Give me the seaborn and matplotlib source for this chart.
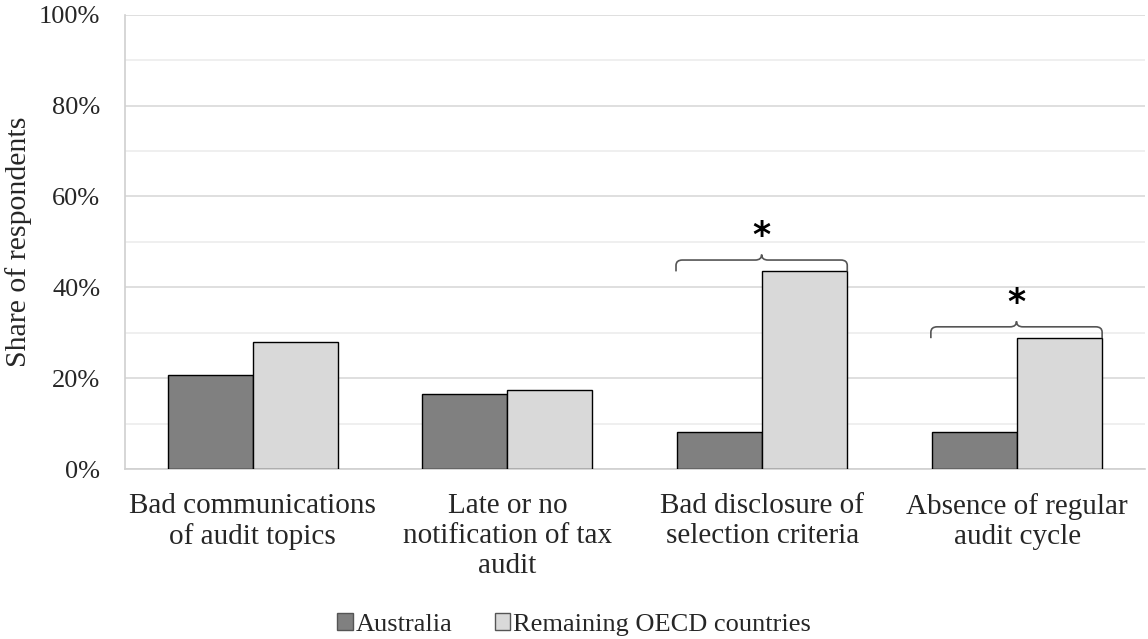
import numpy as np
import pandas as pd
import matplotlib
matplotlib.use('Agg')
import matplotlib.pyplot as plt
from matplotlib.path import Path
from matplotlib.patches import PathPatch, Patch
import seaborn as sns

# values (share of respondents, %)
categories = ['Bad communications\nof audit topics',
              'Late or no\nnotification of tax\naudit',
              'Bad disclosure of\nselection criteria',
              'Absence of regular\naudit cycle']
australia = [20.7, 16.6, 8.2, 8.2]
remaining = [28.0, 17.5, 43.5, 28.8]
groups = ['Australia', 'Remaining OECD countries']
significant = [False, False, True, True]

df = pd.DataFrame({
    'category': categories * 2,
    'group': [groups[0]] * 4 + [groups[1]] * 4,
    'share': australia + remaining,
})

sns.set_style('white')
plt.rcParams['font.family'] = ['Liberation Serif', 'DejaVu Serif']

fig = plt.figure(figsize=(11.48, 6.39), dpi=100)
ax = fig.add_axes([0.109, 0.266, 0.888, 0.711])

colors = {'Australia': '#808080', 'Remaining OECD countries': '#d9d9d9'}
sns.barplot(data=df, x='category', y='share', hue='group', palette=colors,
            width=0.667, edgecolor='black', linewidth=1.0, ax=ax, legend=False,
            zorder=3)

ax.set_ylim(0, 100)
ax.set_xlim(-0.5, len(categories) - 0.5)
ax.set_yticks(np.arange(0, 101, 20))
ax.set_yticks(np.arange(10, 100, 20), minor=True)
ax.set_yticklabels([f'{v}%' for v in range(0, 101, 20)], fontsize=19)
ax.grid(axis='y', which='major', color='#d9d9d9', linewidth=1.2, zorder=0)
ax.grid(axis='y', which='minor', color='#ececec', linewidth=1.2, zorder=0)
ax.set_axisbelow(True)

# category separators as x ticks
ax.set_xticks(np.arange(len(categories)))
ax.set_xticklabels(categories, fontsize=21, linespacing=1.2)
ax.set_xticks(np.arange(-0.5, len(categories) + 0.5, 1), minor=True)
ax.tick_params(axis='x', which='major', length=0, pad=17)
ax.tick_params(axis='x', which='minor', length=7, color='#d0d0d0', width=1.2)
ax.tick_params(axis='y', which='major', length=7, color='#d0d0d0', width=1.2, pad=11)
ax.tick_params(axis='y', which='minor', length=0)
ax.set_xlabel('')
ax.set_ylabel('Share of respondents', fontsize=21.5, labelpad=5)

for side in ['top', 'right']:
    ax.spines[side].set_visible(False)
for side in ['left', 'bottom']:
    ax.spines[side].set_color('#d0d0d0')
    ax.spines[side].set_linewidth(1.2)

# significance braces over the group, built from the bar patches
bars = [p for p in ax.patches if p.get_width() > 0]
n = len(categories)
for i, sig in enumerate(significant):
    if not sig:
        continue
    b0, b1 = bars[i], bars[i + n]
    x0 = b0.get_x() - 0.005
    x1 = b1.get_x() + b1.get_width()
    yb = max(b0.get_height(), b1.get_height())
    yt = yb + 2.5
    xm = (x0 + x1) / 2
    r = 0.025
    h = 1.2
    verts = [(x0, yb), (x0, yt - h), (x0, yt), (x0 + r, yt),
             (xm - r, yt), (xm, yt), (xm, yt + h),
             (xm, yt + h), (xm, yt), (xm + r, yt),
             (x1 - r, yt), (x1, yt), (x1, yt - h), (x1, yb)]
    codes = [Path.MOVETO, Path.LINETO, Path.CURVE3, Path.CURVE3,
             Path.LINETO, Path.CURVE3, Path.CURVE3,
             Path.MOVETO, Path.CURVE3, Path.CURVE3,
             Path.LINETO, Path.CURVE3, Path.CURVE3, Path.LINETO]
    ax.add_patch(PathPatch(Path(verts, codes), fill=False, edgecolor='#555555',
                           linewidth=1.2, zorder=4))
    ax.text(xm, yt + h + 0.3, '*', ha='center', va='bottom', fontsize=25,
            fontweight='bold', family='DejaVu Sans', color='black', zorder=5)

handles = [Patch(facecolor=colors[g], edgecolor='#555555', linewidth=1.0, label=g)
           for g in groups]
fig.legend(handles=handles, loc='lower center', bbox_to_anchor=(0.5, -0.032),
           ncol=2, frameon=False, fontsize=19, handlelength=0.6, handleheight=0.6,
           handletextpad=0.1, columnspacing=1.6)

fig.savefig('out.png', dpi=100)
